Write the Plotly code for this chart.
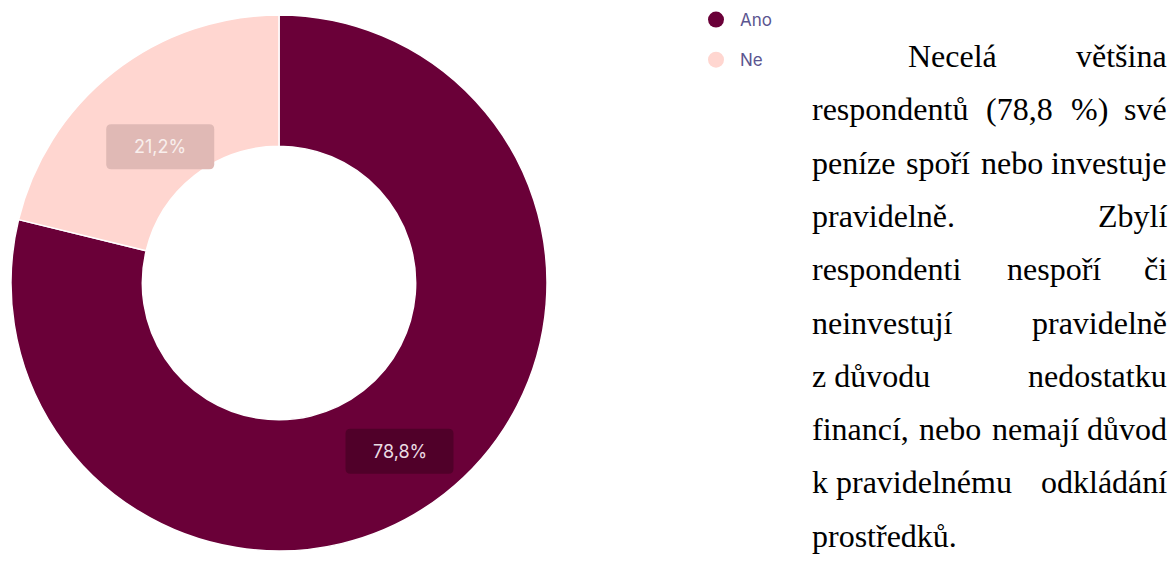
import math
import unicodedata
import plotly.graph_objects as go

# ---------------- data ----------------
categories = ["Ano", "Ne"]
values = [78.8, 21.2]
slice_colors = ["#6a0038", "#ffd6d0"]
label_box_colors = ["#500029", "#e0b9b5"]
label_text_colors = ["#eadbe3", "#f9efed"]

paragraph_lines = [
    ["Necelá", "většina"],
    ["respondentů", "(78,8", "%)", "své"],
    ["peníze", "spoří", "nebo", "investuje"],
    ["pravidelně.", "Zbylí"],
    ["respondenti", "nespoří", "či"],
    ["neinvestují", "pravidelně"],
    ["z\u00a0důvodu", "nedostatku"],
    ["financí,", "nebo", "nemají", "důvod"],
    ["k\u00a0pravidelnému", "odkládání"],
    ["prostředků."],
]

# ---------------- layout constants ----------------
W, H = 1172, 562
CX, CY, R = 279, 283, 268           # donut centre / outer radius (px)
HOLE = 0.51
LABEL_RFRAC = [0.77, 0.675]          # radial placement of value boxes
LABEL_SHIFT = (-7, 6)                # px nudge of value boxes
BOX_W, BOX_H, BOX_R = 108, 45, 5

TXT_LEFT, TXT_RIGHT, TXT_INDENT = 811, 1168, 96
TXT_SIZE = 32
BASE0, LINE_STEP = 67, 53.3

# Times metrics (1/1000 em) for justification
TIMES_W = {
    'a': 444, 'b': 500, 'c': 444, 'd': 500, 'e': 444, 'f': 333, 'g': 500, 'h': 500,
    'i': 278, 'j': 278, 'k': 500, 'l': 278, 'm': 778, 'n': 500, 'o': 500, 'p': 500,
    'q': 500, 'r': 333, 's': 389, 't': 278, 'u': 500, 'v': 500, 'w': 722, 'x': 500,
    'y': 500, 'z': 444, 'N': 722, 'Z': 611, '(': 333, ')': 333, '%': 833, ',': 250,
    '.': 250, ' ': 250, '\u00a0': 250,
}


def text_w(s):
    tot = 0
    for ch in s:
        base = unicodedata.normalize('NFD', ch)[0]
        tot += TIMES_W.get(base, 500)
    return tot / 1000 * TXT_SIZE


def rounded_rect_path(cx, cy, w, h, r):
    # pixel coords (y down) -> paper coords
    def P(x, y):
        return f"{x / W:.6f},{1 - y / H:.6f}"
    x0, x1 = cx - w / 2, cx + w / 2
    y0, y1 = cy - h / 2, cy + h / 2
    return (f"M {P(x0 + r, y0)} L {P(x1 - r, y0)} Q {P(x1, y0)} {P(x1, y0 + r)} "
            f"L {P(x1, y1 - r)} Q {P(x1, y1)} {P(x1 - r, y1)} "
            f"L {P(x0 + r, y1)} Q {P(x0, y1)} {P(x0, y1 - r)} "
            f"L {P(x0, y0 + r)} Q {P(x0, y0)} {P(x0 + r, y0)} Z")


fig = go.Figure()

fig.add_trace(go.Pie(
    labels=categories,
    values=values,
    hole=HOLE,
    sort=False,
    direction="clockwise",
    rotation=0,
    marker=dict(colors=slice_colors, line=dict(color="white", width=1.5)),
    textinfo="none",
    showlegend=False,
    domain=dict(x=[(CX - R) / W, (CX + R) / W],
                y=[(H - CY - R) / H, (H - CY + R) / H]),
))

# legend entries (circle symbols)
for cat, col in zip(categories, slice_colors):
    fig.add_trace(go.Scatter(
        x=[None], y=[None], mode="markers", name=cat, legendgroup=cat,
        marker=dict(size=16, color=col, symbol="circle"), showlegend=True,
    ))

annotations = []
shapes = []

# value boxes on the slices
total = sum(values)
cum = 0.0
for i, v in enumerate(values):
    mid = (cum + v / 2) / total
    cum += v
    th = 2 * math.pi * mid
    r = LABEL_RFRAC[i] * R
    px = CX + r * math.sin(th) + LABEL_SHIFT[0]
    py = CY - r * math.cos(th) + LABEL_SHIFT[1]
    shapes.append(dict(
        type="path", xref="paper", yref="paper",
        path=rounded_rect_path(px, py, BOX_W, BOX_H, BOX_R),
        fillcolor=label_box_colors[i], line=dict(width=0), layer="above",
    ))
    annotations.append(dict(
        x=px / W, y=1 - py / H, xref="paper", yref="paper",
        xanchor="center", yanchor="middle", showarrow=False,
        text=f"{v:.1f}".replace(".", ",") + "%",
        font=dict(family="Inter, Roboto, sans-serif", size=18, color=label_text_colors[i]),
        borderpad=0, align="center",
    ))

# justified paragraph
for li, words in enumerate(paragraph_lines):
    base = BASE0 + LINE_STEP * li
    ymid = 1 - (base - 11) / H
    left = TXT_LEFT + (TXT_INDENT if li == 0 else 0)
    last_line = li == len(paragraph_lines) - 1
    widths = [text_w(w) for w in words]
    if len(words) == 1 or last_line:
        gap = text_w(" ")
    else:
        gap = (TXT_RIGHT - left - sum(widths)) / (len(words) - 1)
    xs = [left]
    for w_ in widths[:-1]:
        xs.append(xs[-1] + w_ + gap)
    for wi, (word, x0) in enumerate(zip(words, xs)):
        is_last = (wi == len(words) - 1) and not (len(words) == 1 or last_line)
        annotations.append(dict(
            x=(TXT_RIGHT if is_last else x0) / W, y=ymid,
            xref="paper", yref="paper",
            xanchor="right" if is_last else "left", yanchor="middle",
            showarrow=False, text=word, borderpad=0,
            font=dict(family="Liberation Serif, Times New Roman, serif",
                      size=TXT_SIZE, color="#000000"),
        ))

fig.update_layout(
    width=W, height=H,
    margin=dict(l=0, r=0, t=0, b=0),
    paper_bgcolor="white", plot_bgcolor="white",
    xaxis=dict(visible=False), yaxis=dict(visible=False),
    showlegend=True,
    legend=dict(
        x=692 / W, y=1 - 2 / H, xanchor="left", yanchor="top",
        orientation="v", tracegroupgap=15, itemwidth=38,
        font=dict(family="Inter, Roboto, sans-serif", size=17, color="#5b5590"),
        bgcolor="rgba(0,0,0,0)",
    ),
    annotations=annotations,
    shapes=shapes,
)

fig.write_html("out.html")
